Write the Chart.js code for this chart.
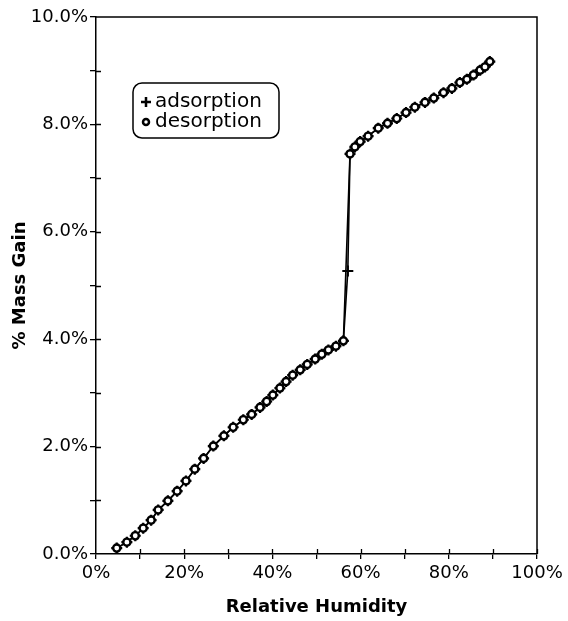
<!DOCTYPE html>
<html>
<head>
<meta charset="utf-8">
<script src="https://cdn.jsdelivr.net/npm/chart.js@4/dist/chart.umd.min.js"></script>
<style>
  html, body { margin: 0; padding: 0; background: #fff; }
  #wrap { width: 568px; height: 621px; }
</style>
</head>
<body>
<div id="wrap"><canvas id="c" width="568" height="621"></canvas></div>
<script>
// Relative humidity (%) and mass gain (%) — adsorption
const rhAds = [4.7, 7.0, 8.9, 10.7, 12.5, 14.1, 16.3, 18.4, 20.4, 22.4, 24.4, 26.6, 29.0, 31.1, 33.4, 35.3, 37.2, 38.7, 40.1, 41.7, 43.1, 44.6, 46.3, 47.9, 49.7, 51.2, 52.7, 54.4, 56.1, 57.1, 57.6, 58.7, 59.9, 61.7, 64.0, 66.1, 68.2, 70.3, 72.3, 74.6, 76.6, 78.8, 80.7, 82.5, 84.1, 85.6, 87.1, 88.2, 89.3];
const mgAds = [0.11, 0.22, 0.34, 0.48, 0.63, 0.82, 0.99, 1.17, 1.36, 1.58, 1.78, 2.01, 2.20, 2.36, 2.50, 2.60, 2.73, 2.84, 2.96, 3.09, 3.21, 3.33, 3.43, 3.53, 3.63, 3.72, 3.80, 3.87, 3.97, 5.27, 7.45, 7.58, 7.68, 7.78, 7.93, 8.02, 8.11, 8.22, 8.32, 8.41, 8.49, 8.59, 8.67, 8.78, 8.84, 8.92, 9.01, 9.07, 9.17];
// desorption
const rhDes = [4.7, 7.0, 8.9, 10.7, 12.5, 14.1, 16.3, 18.4, 20.4, 22.4, 24.4, 26.6, 29.0, 31.1, 33.4, 35.3, 37.2, 38.7, 40.1, 41.7, 43.1, 44.6, 46.3, 47.9, 49.7, 51.2, 52.7, 54.4, 56.1, 57.6, 58.7, 59.9, 61.7, 64.0, 66.1, 68.2, 70.3, 72.3, 74.6, 76.6, 78.8, 80.7, 82.5, 84.1, 85.6, 87.1, 88.2, 89.3];
const mgDes = [0.11, 0.22, 0.34, 0.48, 0.63, 0.82, 0.99, 1.17, 1.36, 1.58, 1.78, 2.01, 2.20, 2.36, 2.50, 2.60, 2.73, 2.84, 2.96, 3.09, 3.21, 3.33, 3.43, 3.53, 3.63, 3.72, 3.80, 3.87, 3.97, 7.45, 7.58, 7.68, 7.78, 7.93, 8.02, 8.11, 8.22, 8.32, 8.41, 8.49, 8.59, 8.67, 8.78, 8.84, 8.92, 9.01, 9.07, 9.17];

const seriesNames = ['adsorption', 'desorption'];
const xTitle = 'Relative Humidity';
const yTitle = '% Mass Gain';

const FONT = 'DejaVu Sans';

const toPts = (xs, ys) => xs.map((x, i) => ({x: x, y: ys[i]}));

// Draw inner tick marks and top/right frame
const framePlugin = {
  id: 'frame',
  afterDraw(chart) {
    const {ctx, chartArea: a, scales: {x, y}} = chart;
    ctx.save();
    ctx.strokeStyle = '#000';
    ctx.lineWidth = 1.5;
    ctx.beginPath();
    ctx.moveTo(a.left, a.top);
    ctx.lineTo(a.right, a.top);
    ctx.lineTo(a.right, a.bottom);
    ctx.stroke();
    ctx.lineWidth = 1.3;
    ctx.beginPath();
    y.ticks.forEach(t => {
      if (t.value <= y.min || t.value >= y.max) return;
      const py = Math.round(y.getPixelForValue(t.value)) + 0.5;
      ctx.moveTo(a.left, py);
      ctx.lineTo(a.left + 5, py);
    });
    x.ticks.forEach(t => {
      if (t.value <= x.min) return;
      const px = Math.round(x.getPixelForValue(t.value)) + 0.5;
      ctx.moveTo(px, a.bottom);
      ctx.lineTo(px, a.bottom - 5);
    });
    ctx.stroke();
    ctx.restore();
  }
};

// Legend box inside the plot area
const legendBoxPlugin = {
  id: 'legendBox',
  afterDraw(chart) {
    const {ctx} = chart;
    const bx = 133, by = 83, bw = 146, bh = 55, r = 9;
    ctx.save();
    ctx.fillStyle = '#fff';
    ctx.strokeStyle = '#000';
    ctx.lineWidth = 1.5;
    ctx.beginPath();
    ctx.roundRect(bx, by, bw, bh, r);
    ctx.fill();
    ctx.stroke();
    ctx.font = '20px "' + FONT + '"';
    ctx.textBaseline = 'middle';
    chart.data.datasets.forEach((ds, i) => {
      const cy = by + 19 + i * 20;
      ctx.strokeStyle = '#000';
      ctx.lineWidth = 2.5;
      if (ds.pointStyle === 'circle') {
        ctx.fillStyle = '#fff';
        ctx.beginPath();
        ctx.arc(146, cy, 3, 0, Math.PI * 2);
        ctx.fill();
        ctx.stroke();
      } else {
        ctx.beginPath();
        ctx.moveTo(141, cy); ctx.lineTo(151, cy);
        ctx.moveTo(146, cy - 5); ctx.lineTo(146, cy + 5);
        ctx.stroke();
      }
      ctx.fillStyle = '#000';
      ctx.fillText(ds.label, 155, cy);
    });
    ctx.restore();
  }
};

new Chart(document.getElementById('c'), {
  type: 'scatter',
  data: {
    datasets: [
      {
        label: seriesNames[0],
        data: toPts(rhAds, mgAds),
        order: 1,
        showLine: true,
        borderColor: '#000',
        borderWidth: 1.6,
        pointStyle: 'cross',
        pointRadius: 5.5,
        pointBorderWidth: 2.2,
        pointBorderColor: '#000',
        pointBackgroundColor: '#000'
      },
      {
        label: seriesNames[1],
        data: toPts(rhDes, mgDes),
        order: 0,
        showLine: true,
        borderColor: '#000',
        borderWidth: 1.6,
        pointStyle: 'circle',
        pointRadius: 3.6,
        pointBorderWidth: 2.4,
        pointBorderColor: '#000',
        pointBackgroundColor: '#fff'
      }
    ]
  },
  options: {
    responsive: false,
    animation: false,
    layout: { padding: { top: 17, right: 31, left: 0, bottom: 0 } },
    plugins: {
      legend: { display: false },
      tooltip: { enabled: false }
    },
    scales: {
      x: {
        type: 'linear',
        min: 0, max: 100,
        ticks: {
          stepSize: 10,
          autoSkip: false,
          maxRotation: 0,
          padding: 4,
          color: '#000',
          font: { family: FONT, size: 18 },
          callback: v => (v % 20 === 0 ? v + '%' : '')
        },
        grid: { drawOnChartArea: false, drawTicks: true, tickLength: 5, color: '#000', lineWidth: 1.3 },
        border: { color: '#000', width: 1.5 },
        title: {
          display: true, text: xTitle, color: '#000',
          font: { family: FONT, size: 18, weight: 'bold' },
          padding: { top: 0, bottom: 3 }
        },
        afterFit: s => { s.height = 67; }
      },
      y: {
        type: 'linear',
        min: 0, max: 10,
        ticks: {
          stepSize: 1,
          autoSkip: false,
          padding: 2,
          color: '#000',
          font: { family: FONT, size: 18 },
          callback: v => (v % 2 === 0 ? v.toFixed(1) + '%' : '')
        },
        grid: { drawOnChartArea: false, drawTicks: true, tickLength: 6, color: '#000', lineWidth: 1.3 },
        border: { color: '#000', width: 1.5 },
        title: {
          display: true, text: yTitle, color: '#000',
          font: { family: FONT, size: 18, weight: 'bold' },
          padding: { top: 10, bottom: 0 }
        },
        afterFit: s => { s.width = 96; }
      }
    }
  },
  plugins: [framePlugin, legendBoxPlugin]
});
</script>
</body>
</html>
